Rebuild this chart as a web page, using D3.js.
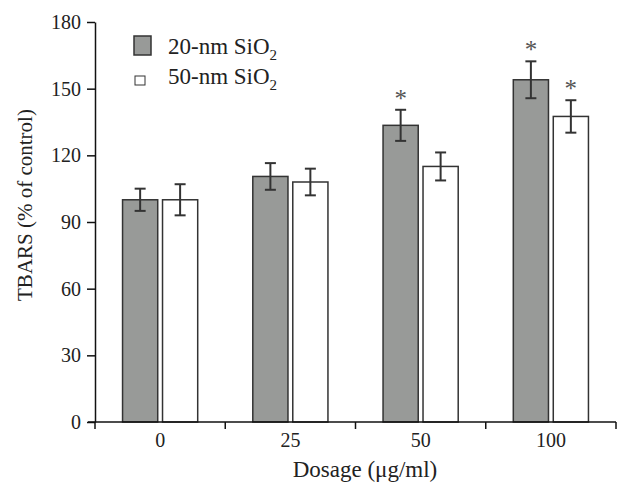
<!DOCTYPE html>
<html>
<head>
  <meta charset="UTF-8">
  <style>
    body { margin: 0; background: #fff; }
    text { font-family: "Liberation Serif", "Times New Roman", serif; fill: #222; }
  </style>
</head>
<body>
  <svg></svg>
  <script src="https://d3js.org/d3.v7.min.js"></script>
  <script>
    // data
    let dosages = ["0", "25", "50", "100"];
    let seriesNames = ["20-nm SiO", "50-nm SiO"];
    let means20 = [100, 110.5, 133.5, 154];
    let means50 = [100, 108, 115, 137.5];
    let err20 = [5, 6, 7, 8.3];
    let err50 = [7, 6, 6.3, 7.3];
    let sig20 = [false, false, true, true];
    let sig50 = [false, false, false, true];
    let yTicks = [0, 30, 60, 90, 120, 150, 180];

    let width = 617, height = 485;
    let svg = d3.select("svg").attr("width", width).attr("height", height);

    let rows = [];
    dosages.forEach((d, i) => {
      rows.push({ dose: d, s: 0, v: means20[i], e: err20[i], sig: sig20[i] });
      rows.push({ dose: d, s: 1, v: means50[i], e: err50[i], sig: sig50[i] });
    });

    let x0 = d3.scaleBand().domain(dosages).range([95, 616]).paddingInner(0.423).paddingOuter(0.2115);
    let x1 = d3.scaleBand().domain([0, 1]).range([0, x0.bandwidth()]).paddingInner(0.12);
    let y = d3.scaleLinear().domain([0, 180]).range([422, 22]);

    let fills = ["#989a98", "#ffffff"];

    // bars
    svg.append("g").selectAll("rect")
      .data(rows).enter().append("rect")
      .attr("x", d => x0(d.dose) + x1(d.s))
      .attr("y", d => y(d.v))
      .attr("width", x1.bandwidth())
      .attr("height", d => y(0) - y(d.v))
      .attr("fill", d => fills[d.s])
      .attr("stroke", "#333")
      .attr("stroke-width", 1.5);

    // error bars
    let eb = svg.append("g").attr("stroke", "#333").attr("stroke-width", 2);
    rows.forEach(d => {
      let cx = x0(d.dose) + x1(d.s) + x1.bandwidth() / 2;
      eb.append("line").attr("x1", cx).attr("x2", cx).attr("y1", y(d.v + d.e)).attr("y2", y(d.v - d.e));
      eb.append("line").attr("x1", cx - 5.5).attr("x2", cx + 5.5).attr("y1", y(d.v + d.e)).attr("y2", y(d.v + d.e));
      eb.append("line").attr("x1", cx - 5.5).attr("x2", cx + 5.5).attr("y1", y(d.v - d.e)).attr("y2", y(d.v - d.e));
    });

    // significance stars
    svg.append("g").selectAll("text")
      .data(rows.filter(d => d.sig)).enter().append("text")
      .attr("x", d => x0(d.dose) + x1(d.s) + x1.bandwidth() / 2)
      .attr("y", d => y(d.v + d.e) - 3)
      .attr("text-anchor", "middle")
      .style("font-size", "25px")
      .style("fill", "#555")
      .text("*");

    // y axis
    let yAxis = d3.axisLeft(y).tickValues(yTicks).tickSize(8).tickPadding(6).tickSizeOuter(0);
    let gy = svg.append("g").attr("transform", "translate(95,0)").call(yAxis);
    gy.attr("font-family", null);
    gy.selectAll("text").style("font-size", "20px").attr("fill", "#222");
    gy.selectAll("line, path").attr("stroke", "#111").attr("stroke-width", 1.5);

    // x axis: line with ticks at band boundaries
    let gx = svg.append("g");
    gx.append("line").attr("x1", 88).attr("x2", 616).attr("y1", y(0)).attr("y2", y(0))
      .attr("stroke", "#111").attr("stroke-width", 1.5);
    let bounds = d3.range(dosages.length + 1).map(i => x0.range()[0] + i * x0.step());
    gx.selectAll(".tk").data(bounds).enter().append("line")
      .attr("x1", d => d).attr("x2", d => d)
      .attr("y1", y(0)).attr("y2", y(0) + 7)
      .attr("stroke", "#111").attr("stroke-width", 1.5);
    gx.selectAll(".lb").data(dosages).enter().append("text")
      .attr("x", d => x0(d) + x0.bandwidth() / 2)
      .attr("y", y(0) + 25)
      .attr("text-anchor", "middle")
      .style("font-size", "20px")
      .text(d => d);

    // axis titles
    svg.append("text")
      .attr("x", 365).attr("y", 477)
      .attr("text-anchor", "middle")
      .style("font-size", "23px")
      .text("Dosage (\u03bcg/ml)");

    svg.append("text")
      .attr("transform", "translate(32,205) rotate(-90)")
      .attr("text-anchor", "middle")
      .style("font-size", "21px")
      .text("TBARS (% of control)");

    // legend
    let leg = svg.append("g");
    leg.append("rect").attr("x", 134).attr("y", 36).attr("width", 17).attr("height", 19)
      .attr("fill", fills[0]).attr("stroke", "#333").attr("stroke-width", 1.5);
    leg.append("rect").attr("x", 135).attr("y", 76).attr("width", 10).attr("height", 9)
      .attr("fill", fills[1]).attr("stroke", "#333").attr("stroke-width", 1);
    [53.5, 83.5].forEach((by, i) => {
      let t = leg.append("text").attr("x", 168).attr("y", by).style("font-size", "23px");
      t.append("tspan").text(seriesNames[i]);
      t.append("tspan").attr("dy", 6).style("font-size", "15px").text("2");
    });
  </script>
</body>
</html>
